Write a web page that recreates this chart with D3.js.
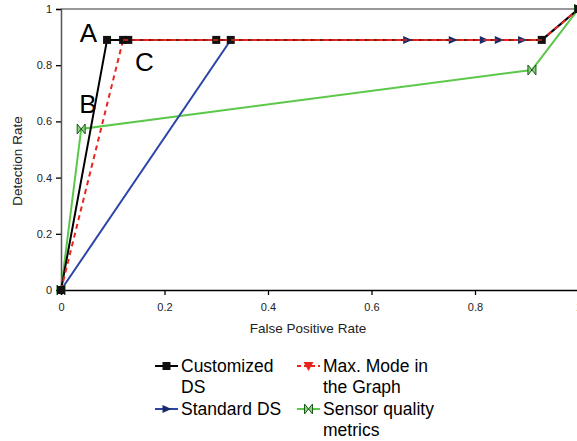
<!DOCTYPE html>
<html>
<head>
<meta charset="utf-8">
<script src="https://cdn.jsdelivr.net/npm/d3@7"></script>
<style>
  body { margin: 0; background: #fff; }
  text { font-family: "Liberation Sans", Arial, sans-serif; }
</style>
</head>
<body>
<div id="chart"></div>
<script>
// data
var customizedX = [0, 0.089, 0.12, 0.13, 0.30, 0.328, 0.929, 1];
var customizedY = [0, 0.89, 0.89, 0.89, 0.89, 0.89, 0.89, 1];
var maxModeX = [0, 0.12, 0.929, 1];
var maxModeY = [0, 0.89, 0.89, 1];
var standardX = [0, 0.328, 0.669, 0.757, 0.817, 0.846, 0.891, 0.929, 1];
var standardY = [0, 0.89, 0.89, 0.89, 0.89, 0.89, 0.89, 0.89, 1];
var sensorX = [0, 0.039, 0.91, 1];
var sensorY = [0, 0.573, 0.783, 1];
var xTicks = [0, 0.2, 0.4, 0.6, 0.8, 1];
var yTicks = [0, 0.2, 0.4, 0.6, 0.8, 1];

var margin = { top: 9, left: 61 },
    width = 517.5, height = 281;

var svg = d3.select("#chart").append("svg")
    .attr("width", 577).attr("height", 441);
var g = svg.append("g")
    .attr("transform", "translate(" + margin.left + "," + margin.top + ")");

var x = d3.scaleLinear().domain([0, 1]).range([0, width]);
var y = d3.scaleLinear().domain([0, 1]).range([height, 0]);

// top border
g.append("line").attr("x1", 0).attr("x2", width).attr("y1", 0).attr("y2", 0)
    .attr("stroke", "#777").attr("stroke-width", 1.3);

var xAxis = g.append("g").attr("transform", "translate(0," + height + ")")
    .call(d3.axisBottom(x).tickValues(xTicks).tickFormat(d3.format("~g")).tickSize(5).tickPadding(8));
var yAxis = g.append("g")
    .call(d3.axisLeft(y).tickValues(yTicks).tickFormat(d3.format("~g")).tickSize(5).tickPadding(4));
[xAxis, yAxis].forEach(function (a) {
    a.select(".domain").attr("stroke-width", 1.5);
    a.selectAll(".tick line").attr("stroke-width", 1.3);
    a.selectAll("text").style("font-size", "11px").attr("fill", "#222");
});
yAxis.select(".domain").attr("stroke", "#555");

g.append("text").attr("x", 247).attr("y", 324).attr("text-anchor", "middle")
    .style("font-size", "13.5px").attr("fill", "#222").text("False Positive Rate");
g.append("text").attr("transform", "translate(-39,152) rotate(-90)")
    .attr("text-anchor", "middle").style("font-size", "13.5px").attr("fill", "#222").text("Detection Rate");

function pts(xs, ys) { return xs.map(function (v, i) { return [v, ys[i]]; }); }
var line = d3.line().x(function (d) { return x(d[0]); }).y(function (d) { return y(d[1]); });

var series = [
    { name: "sensor", data: pts(sensorX, sensorY), color: "#5cc84a", dash: null, marker: "bowtie" },
    { name: "standard", data: pts(standardX, standardY), color: "#2e45a8", dash: null, marker: "tri" },
    { name: "customized", data: pts(customizedX, customizedY), color: "#000", dash: null, marker: "square" },
    { name: "maxmode", data: pts(maxModeX, maxModeY), color: "#e8261e", dash: "5,4", marker: null }
];

function drawMarker(sel, type, color) {
    if (type === "square") {
        sel.append("rect").attr("x", -4).attr("y", -4).attr("width", 8).attr("height", 8).attr("fill", "#111");
    } else if (type === "tri") {
        sel.append("path").attr("d", "M-4,-4L5,0L-4,4Z").attr("fill", "#1a2a6a");
    } else if (type === "triDown") {
        sel.append("path").attr("d", "M-5,-4L5,-4L0,5Z").attr("fill", "#e8261e");
    } else if (type === "bowtie") {
        sel.append("path").attr("d", "M-4,-5L4,5L4,-5L-4,5Z").attr("fill", "#8fd080")
            .attr("stroke", "#1a5a1a").attr("stroke-width", 1);
    }
}

series.forEach(function (s) {
    g.append("path").datum(s.data).attr("d", line)
        .attr("fill", "none").attr("stroke", s.color).attr("stroke-width", 2)
        .attr("stroke-dasharray", s.dash);
});
// markers (standard triangles drawn only on the flat part)
series.forEach(function (s) {
    if (!s.marker) return;
    var data = s.data;
    if (s.marker === "tri") data = s.data.slice(2, 7);
    data.forEach(function (d) {
        drawMarker(g.append("g").attr("transform", "translate(" + x(d[0]) + "," + y(d[1]) + ")"), s.marker, s.color);
    });
});
// red dashed line sits over the black flat segment
g.append("path").datum(pts(maxModeX, maxModeY).slice(1, 3)).attr("d", line)
    .attr("fill", "none").attr("stroke", "#e8261e").attr("stroke-width", 1.5).attr("stroke-dasharray", "5,4");

// annotations
var notes = [["A", 0.053, 0.915], ["B", 0.052, 0.664], ["C", 0.161, 0.813]];
notes.forEach(function (n) {
    g.append("text").attr("x", x(n[1])).attr("y", y(n[2])).attr("dy", "0.36em")
        .attr("text-anchor", "middle").style("font-size", "26px").text(n[0]);
});

// legend
var legend = [
    { lines: ["Customized", "DS"], color: "#000", dash: null, marker: "square", x: 155, y: 366 },
    { lines: ["Max. Mode in", "the Graph"], color: "#e8261e", dash: "4,3", marker: "triDown", x: 297, y: 366 },
    { lines: ["Standard DS"], color: "#2e45a8", dash: null, marker: "tri", x: 155, y: 409 },
    { lines: ["Sensor quality", "metrics"], color: "#5cc84a", dash: null, marker: "bowtie", x: 297, y: 409 }
];
legend.forEach(function (l) {
    var lg = svg.append("g").attr("transform", "translate(" + l.x + "," + l.y + ")");
    lg.append("line").attr("x1", 0).attr("x2", 23).attr("stroke", l.color).attr("stroke-width", 2)
        .attr("stroke-dasharray", l.dash);
    drawMarker(lg.append("g").attr("transform", "translate(11.5,0)"), l.marker, l.color);
    l.lines.forEach(function (t, i) {
        lg.append("text").attr("x", 26).attr("y", i * 21).attr("dy", "0.35em")
            .style("font-size", "17.5px").text(t);
    });
});
</script>
</body>
</html>
